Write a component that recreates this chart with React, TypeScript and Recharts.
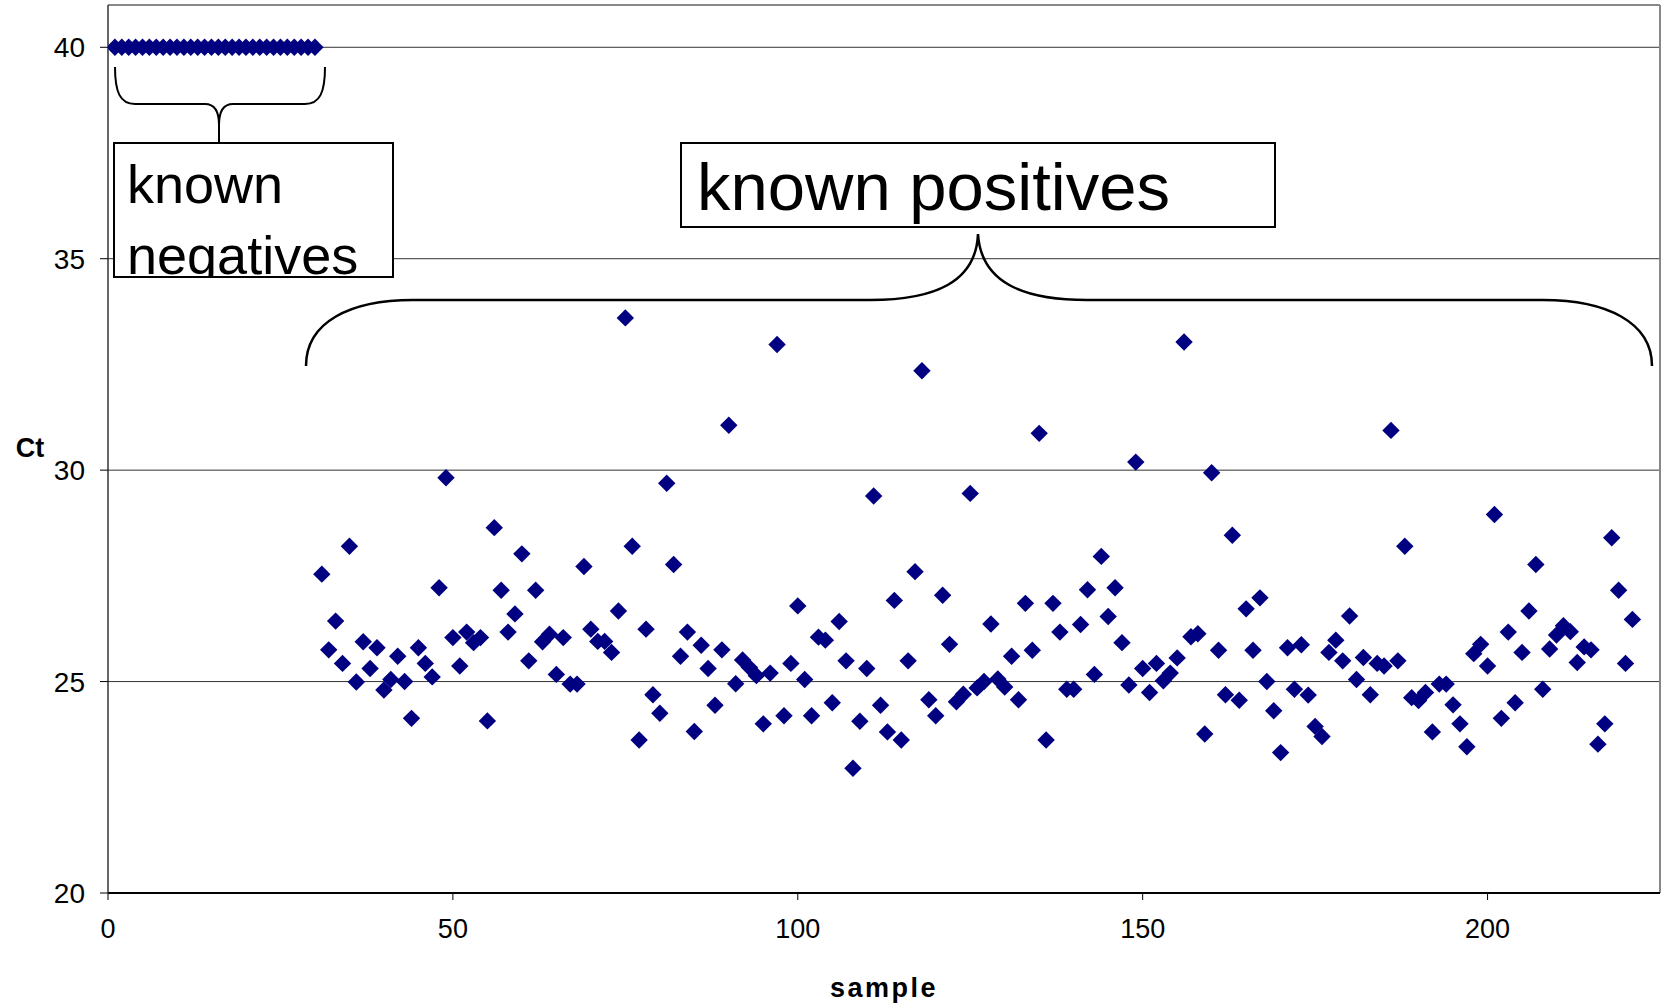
import {
  CartesianGrid,
  ReferenceLine,
  Scatter,
  ScatterChart,
  XAxis,
  YAxis,
} from "recharts";

const font = "'Liberation Sans', Arial, sans-serif";

// Ct for samples 1..30 (known negatives)
const negativeCt = [
  40, 40, 40, 40, 40, 40, 40, 40, 40, 40,
  40, 40, 40, 40, 40, 40, 40, 40, 40, 40,
  40, 40, 40, 40, 40, 40, 40, 40, 40, 40,
];

// Ct for samples 31..221 (known positives)
const positiveCt = [
  27.54, 25.75, 26.43, 25.43, 28.2, 24.99, 25.94, 25.31, 25.8, 24.8,
  25.05, 25.6, 25.0, 24.13, 25.8, 25.43, 25.11, 27.22, 29.82, 26.04,
  25.37, 26.17, 25.92, 26.04, 24.07, 28.64, 27.16, 26.17, 26.6, 28.02,
  25.49, 27.16, 25.94, 26.12, 25.17, 26.04, 24.94, 24.94, 27.72, 26.24,
  25.95, 25.95, 25.69, 26.67, 33.6, 28.2, 23.62, 26.24, 24.69, 24.25,
  29.69, 27.77, 25.6, 26.17, 23.82, 25.86, 25.31, 24.44, 25.75, 31.06,
  24.95, 25.51, 25.33, 25.14, 24.0, 25.2, 32.97, 24.19, 25.43, 26.79,
  25.05, 24.19, 26.05, 25.98, 24.5, 26.42, 25.49, 22.95, 24.06, 25.31,
  29.39, 24.44, 23.81, 26.92, 23.62, 25.49, 27.6, 32.35, 24.57, 24.19,
  27.04, 25.88, 24.52, 24.7, 29.45, 24.85, 25.0, 26.36, 25.06, 24.87,
  25.6, 24.57, 26.85, 25.74, 30.87, 23.62, 26.85, 26.17, 24.82, 24.82,
  26.35, 27.17, 25.17, 27.96, 26.54, 27.22, 25.92, 24.92, 30.19, 25.31,
  24.74, 25.43, 25.02, 25.2, 25.56, 33.03, 26.06, 26.13, 23.76, 29.94,
  25.74, 24.69, 28.46, 24.56, 26.72, 25.74, 26.98, 25.0, 24.31, 23.32,
  25.8, 24.82, 25.87, 24.68, 23.94, 23.7, 25.69, 25.98, 25.49, 26.55,
  25.05, 25.57, 24.69, 25.43, 25.37, 30.94, 25.49, 28.2, 24.62, 24.55,
  24.74, 23.81, 24.94, 24.94, 24.45, 24.0, 23.46, 25.66, 25.88, 25.37,
  28.95, 24.13, 26.17, 24.5, 25.69, 26.67, 27.77, 24.82, 25.77, 26.1,
  26.32, 26.18, 25.45, 25.82, 25.75, 23.52, 24.0, 28.4, 27.16, 25.43, 26.47,
];

const xTicks = [0, 50, 100, 150, 200];
const yTicks = [20, 25, 30, 35, 40];

const negatives = negativeCt.map((ct, i) => ({ sample: i + 1, ct }));
const positives = positiveCt.map((ct, i) => ({ sample: i + 31, ct }));

function Diamond(props: any) {
  const { cx, cy } = props;
  if (cx == null || cy == null) return null;
  const r = 8.7;
  return (
    <polygon
      points={`${cx},${cy - r} ${cx + r},${cy} ${cx},${cy + r} ${cx - r},${cy}`}
      fill="#000080"
    />
  );
}

function Annotations() {
  return (
    <svg
      width={1665}
      height={1004}
      style={{ position: "absolute", left: 0, top: 0, pointerEvents: "none" }}
    >
      <defs>
        <clipPath id="negClip">
          <rect x={114} y={143} width={279} height={134} />
        </clipPath>
      </defs>
      {/* brace over negatives */}
      <path
        d="M115,67 C115,92 120,104 135,104 L205,104 C215,104 219,112 219,125 L219,142 M325,67 C325,92 320,104 305,104 L233,104 C223,104 219,112 219,125"
        fill="none"
        stroke="#000"
        strokeWidth={2}
      />
      <rect x={114} y={143} width={279} height={134} fill="#fff" stroke="#000" strokeWidth={2} />
      <g clipPath="url(#negClip)" fontFamily={font} fontSize={54} fill="#000">
        <text x={127} y={203}>known</text>
        <text x={127} y={274}>negatives</text>
      </g>
      {/* brace over positives */}
      <path
        d="M306,366 C306,322 350,300 413,300 L870,300 C935,300 976,282 978,234 C981,282 1022,300 1087,300 L1543,300 C1606,300 1652,322 1652,366"
        fill="none"
        stroke="#000"
        strokeWidth={2.5}
      />
      <rect x={681} y={143} width={594} height={84} fill="#fff" stroke="#000" strokeWidth={2} />
      <text x={697} y={210} fontFamily={font} fontSize={67} fill="#000">
        known positives
      </text>
      {/* axis titles */}
      <text x={30} y={457} textAnchor="middle" fontFamily={font} fontSize={27} fontWeight="bold">
        Ct
      </text>
      <text
        x={884}
        y={997}
        textAnchor="middle"
        fontFamily={font}
        fontSize={27}
        fontWeight="bold"
        letterSpacing={2.5}
      >
        sample
      </text>
    </svg>
  );
}

export default function App() {
  return (
    <div
      style={{
        position: "absolute",
        left: 0,
        top: 0,
        width: 1665,
        height: 1004,
        background: "#fff",
      }}
    >
      <ScatterChart
        width={1665}
        height={1004}
        margin={{ top: 5, right: 5, left: 48, bottom: 51 }}
      >
        <CartesianGrid vertical={false} stroke="#333" strokeWidth={1} />
        <XAxis
          type="number"
          dataKey="sample"
          domain={[0, 225]}
          ticks={xTicks}
          allowDataOverflow
          height={60}
          axisLine={{ stroke: "#000", strokeWidth: 2 }}
          tickLine={{ stroke: "#000" }}
          tickSize={7}
          tickMargin={19}
          tick={{ fill: "#000", fontSize: 27, fontFamily: font }}
        />
        <YAxis
          type="number"
          dataKey="ct"
          domain={[20, 41]}
          ticks={yTicks}
          allowDataOverflow
          width={60}
          axisLine={{ stroke: "#333", strokeWidth: 1.5 }}
          tickLine={{ stroke: "#000" }}
          tickSize={8}
          tickMargin={15}
          tick={{ fill: "#000", fontSize: 28, fontFamily: font }}
        />
        <ReferenceLine y={41} stroke="#888" strokeWidth={2} />
        <ReferenceLine x={225} stroke="#888" strokeWidth={2} />
        <Scatter data={negatives} shape={Diamond} isAnimationActive={false} />
        <Scatter data={positives} shape={Diamond} isAnimationActive={false} />
      </ScatterChart>
      <Annotations />
    </div>
  );
}
